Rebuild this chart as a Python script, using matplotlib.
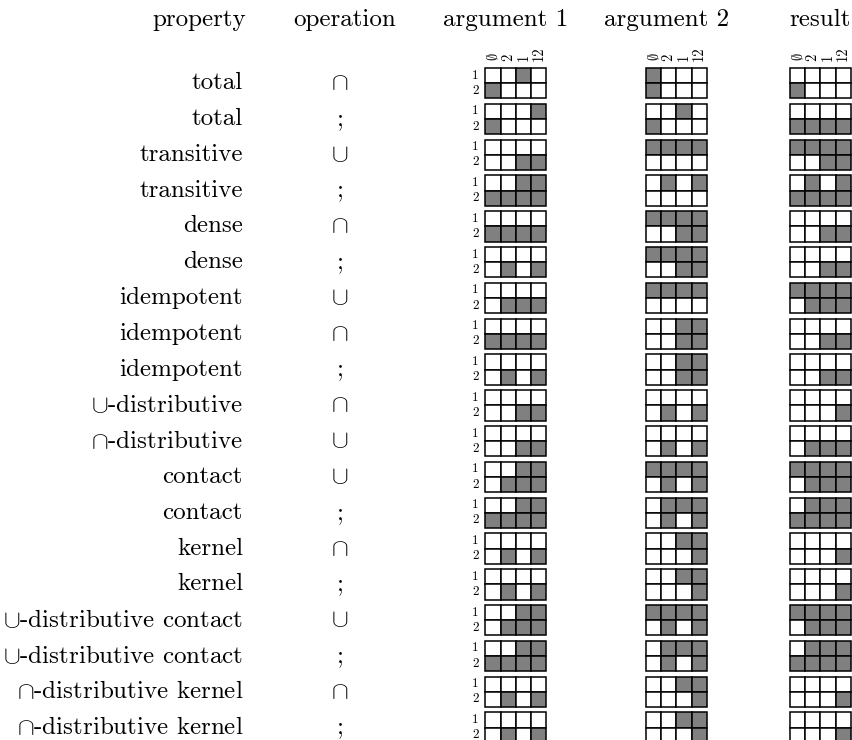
import matplotlib
matplotlib.use("Agg")
import matplotlib.pyplot as plt
from matplotlib.patches import Rectangle

plt.rcParams['font.family'] = ['cmr10', 'DejaVu Serif']
plt.rcParams['mathtext.fontset'] = 'cm'
plt.rcParams['axes.formatter.use_mathtext'] = True

# ---- data ----
headers = ["property", "operation", "argument 1", "argument 2", "result"]
col_labels = [r"$\emptyset$", "2", "1", "12"]
row_labels = ["1", "2"]

properties = ["total", "total", "transitive", "transitive", "dense", "dense",
              "idempotent", "idempotent", "idempotent",
              r"$\cup$-distributive", r"$\cap$-distributive",
              "contact", "contact", "kernel", "kernel",
              r"$\cup$-distributive contact", r"$\cup$-distributive contact",
              r"$\cap$-distributive kernel", r"$\cap$-distributive kernel"]
operations = [r"$\cap$", ";", r"$\cup$", ";", r"$\cap$", ";",
              r"$\cup$", r"$\cap$", ";", r"$\cap$", r"$\cup$",
              r"$\cup$", ";", r"$\cap$", ";", r"$\cup$", ";", r"$\cap$", ";"]

# each grid: "row1/row2", 1 = filled
argument1 = ["0010/1000", "0001/1000", "0000/0011", "0011/1111", "0000/1111",
             "0000/0101", "0000/0111", "0000/1111", "0000/0101", "0000/0011",
             "0000/0011", "0011/0111", "0011/1111", "0000/0101", "0000/0101",
             "0011/0111", "0011/1111", "0000/0101", "0000/0101"]
argument2 = ["1000/1000", "0010/1000", "1111/0000", "0101/0000", "1111/0011",
             "1111/0011", "1111/0000", "0011/0011", "0011/0011", "0000/0101",
             "0000/0101", "1111/0101", "0111/0101", "0011/0001", "0011/0001",
             "1111/0101", "0111/0101", "0011/0001", "0011/0001"]
result = ["0000/1000", "0000/1111", "1111/0011", "0101/1111", "0000/0011",
          "0000/0011", "1111/0111", "0000/0011", "0000/0011", "0000/0001",
          "0000/0111", "1111/0111", "0111/1111", "0000/0001", "0000/0001",
          "1111/0111", "0111/1111", "0000/0001", "0000/0001"]

# ---- layout (pixels) ----
W, H = 853, 740
fig = plt.figure(figsize=(W / 100, H / 100), dpi=100)
ax = fig.add_axes([0, 0, 1, 1])
ax.set_xlim(0, W)
ax.set_ylim(H, 0)
ax.axis('off')

cell = 15.2
row_step = 35.8
grid_top0 = 68
grid_lefts = [485.5, 646, 790]
prop_right = 243
op_x = 340
head_x = [199, 345, 506, 667, 820]
head_y = 20
fs = 18
small = 9.5
rot_small = 10.5
gray = '#808080'

for hx, h in zip(head_x, headers):
    ax.text(hx, head_y, h, ha='center', va='center', fontsize=fs)

# column labels above each grid
for gl in grid_lefts:
    for j, lab in enumerate(col_labels):
        ax.text(gl + (j + 0.5) * cell, grid_top0 - 7, lab, rotation=90,
                ha='center', va='bottom', fontsize=rot_small)

grids = [argument1, argument2, result]
for i in range(len(properties)):
    top = grid_top0 + i * row_step
    yc = top + cell
    ax.text(prop_right, yc, properties[i], ha='right', va='center', fontsize=fs)
    ax.text(op_x, yc, operations[i], ha='center', va='center', fontsize=fs)
    for r, lab in enumerate(row_labels):
        ax.text(grid_lefts[0] - 7, top + (r + 0.5) * cell, lab,
                ha='right', va='center', fontsize=small)
    for gl, g in zip(grid_lefts, grids):
        rows = g[i].split('/')
        for r in range(2):
            for c in range(4):
                filled = rows[r][c] == '1'
                ax.add_patch(Rectangle((gl + c * cell, top + r * cell), cell, cell,
                                       facecolor=gray if filled else 'white',
                                       edgecolor='black', linewidth=1.1))

fig.savefig("out.png", dpi=100)
